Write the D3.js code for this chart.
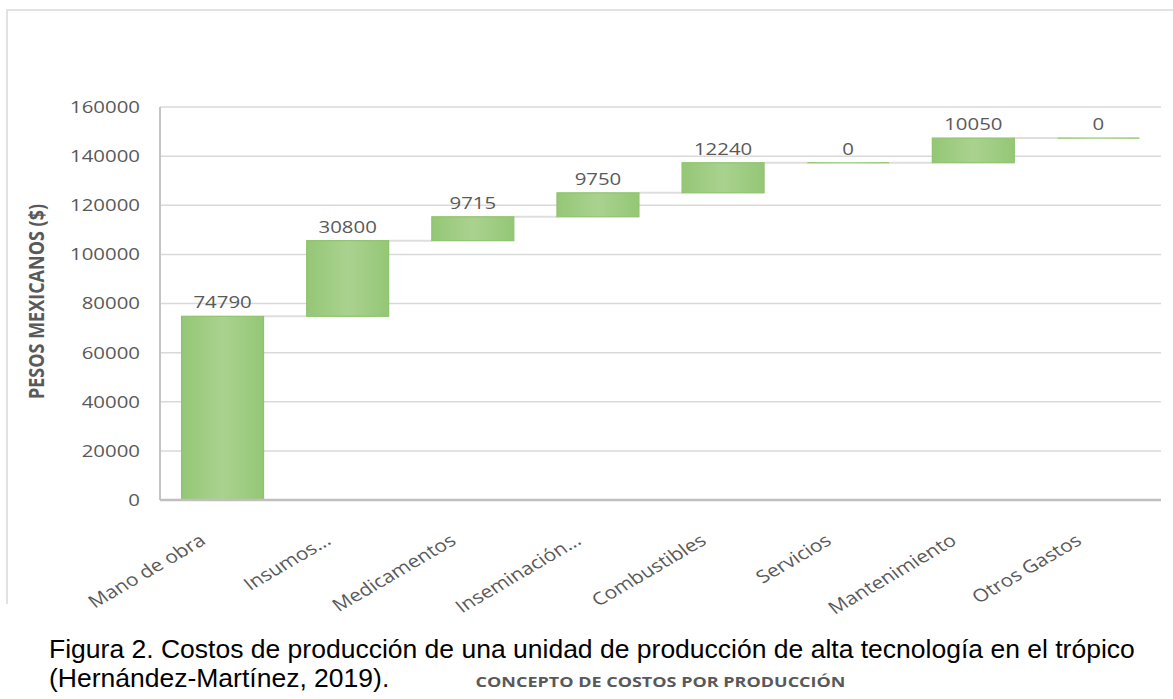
<!DOCTYPE html>
<html>
<head>
<meta charset="utf-8">
<script src="https://cdn.jsdelivr.net/npm/d3@7"></script>
<style>
  body { margin: 0; background: #fff; }
  svg { display: block; }
</style>
</head>
<body>
<svg class="chart" width="1173" height="699"></svg>
<script>
var categories = ["Mano de obra", "Insumos...", "Medicamentos", "Inseminación...", "Combustibles", "Servicios", "Mantenimiento", "Otros Gastos"];
var costs = [74790, 30800, 9715, 9750, 12240, 0, 10050, 0];
var yTicks = [0, 20000, 40000, 60000, 80000, 100000, 120000, 140000, 160000];
var yTitle = "PESOS MEXICANOS ($)";
var xTitle = "CONCEPTO DE COSTOS POR PRODUCCIÓN";
var captionLines = ["Figura 2. Costos de producción de una unidad de producción de alta tecnología en el trópico", "(Hernández-Martínez, 2019)."];

var margin = {top: 107, right: 12, bottom: 199, left: 160},
    width = 1173 - margin.left - margin.right,
    height = 699 - margin.top - margin.bottom;
var sx = 1.2; // the source picture is stretched sideways
var grey = "#595959";

// waterfall steps
var steps = [], run = 0;
costs.forEach(function(v, i) {
  steps.push({cat: categories[i], value: v, start: run, end: run + v});
  run += v;
});

var svg = d3.select(".chart");

var defs = svg.append("defs");
var grad = defs.append("linearGradient").attr("id", "barFill")
  .attr("x1", 0).attr("x2", 1).attr("y1", 0).attr("y2", 0);
grad.append("stop").attr("offset", "0").attr("stop-color", "#94c776");
grad.append("stop").attr("offset", "0.5").attr("stop-color", "#aad28f");
grad.append("stop").attr("offset", "1").attr("stop-color", "#94c776");

// outer chart frame
svg.append("path")
  .attr("d", "M7,604V10H1173")
  .attr("fill", "none").attr("stroke", "#d9d9d9").attr("stroke-width", 1.5);

var chart = svg.append("g")
  .attr("transform", "translate(" + margin.left + "," + margin.top + ")");

var x = d3.scaleBand().domain(categories).range([0, width]).paddingInner(0.345).paddingOuter(0.1725);
var y = d3.scaleLinear().domain([0, 160000]).range([height, 0]);

// gridlines
chart.selectAll(".grid")
  .data(yTicks.slice(1))
  .enter().append("line")
  .attr("class", "grid")
  .attr("x1", 0).attr("x2", width)
  .attr("y1", function(d) { return y(d); }).attr("y2", function(d) { return y(d); })
  .attr("stroke", "#d9d9d9").attr("stroke-width", 1.5);

// y axis line
chart.append("line")
  .attr("x1", 0).attr("x2", 0).attr("y1", y(160000)).attr("y2", y(0))
  .attr("stroke", "#c4c4c4").attr("stroke-width", 2);

// y tick labels
chart.selectAll(".ytick")
  .data(yTicks)
  .enter().append("text")
  .attr("class", "ytick")
  .attr("transform", function(d) { return "translate(-20," + y(d) + ") scale(" + sx + ",1)"; })
  .attr("dy", "0.35em")
  .attr("text-anchor", "end")
  .style("font-family", "'Open Sans', sans-serif").style("font-size", "17px")
  .attr("fill", grey)
  .text(function(d) { return d; });

// connectors
chart.selectAll(".conn")
  .data(steps.slice(0, -1))
  .enter().append("line")
  .attr("class", "conn")
  .attr("x1", function(d) { return x(d.cat) + x.bandwidth(); })
  .attr("x2", function(d, i) { return x(categories[i + 1]); })
  .attr("y1", function(d) { return y(d.end); })
  .attr("y2", function(d) { return y(d.end); })
  .attr("stroke", "#dedede").attr("stroke-width", 2);

// bars
chart.selectAll(".bar")
  .data(steps)
  .enter().append("rect")
  .attr("class", "bar")
  .attr("x", function(d) { return x(d.cat); })
  .attr("width", x.bandwidth())
  .attr("y", function(d) { return d.value > 0 ? y(d.end) : y(d.end) - 0.75; })
  .attr("height", function(d) { return Math.max(y(d.start) - y(d.end), 1.5); })
  .attr("fill", "url(#barFill)")
  .attr("stroke", "#8ec36d").attr("stroke-width", function(d) { return d.value > 0 ? 1.2 : 0; });

// x axis line
chart.append("line")
  .attr("x1", 0).attr("x2", width).attr("y1", y(0)).attr("y2", y(0))
  .attr("stroke", "#bfbfbf").attr("stroke-width", 2.5);

// data labels
chart.selectAll(".val")
  .data(steps)
  .enter().append("text")
  .attr("class", "val")
  .attr("transform", function(d) {
    return "translate(" + (x(d.cat) + x.bandwidth() / 2) + "," + (y(d.end) - 8) + ") scale(" + sx + ",1)";
  })
  .attr("text-anchor", "middle")
  .style("font-family", "'Open Sans', sans-serif").style("font-size", "17px")
  .attr("fill", grey)
  .text(function(d) { return d.value; });

// category labels
chart.selectAll(".xtick")
  .data(categories)
  .enter().append("text")
  .attr("class", "xtick")
  .attr("transform", function(d) {
    return "translate(" + (x(d) + x.bandwidth() / 2 - 24) + "," + (height + 33) + ") scale(" + sx + ",1) rotate(-35)";
  })
  .attr("dy", "0.71em")
  .attr("text-anchor", "end")
  .style("font-family", "'Open Sans', sans-serif").style("font-size", "17.5px")
  .attr("fill", grey)
  .text(function(d) { return d; });

// axis titles
svg.append("text")
  .attr("transform", "translate(44," + (margin.top + height / 2 - 2) + ") scale(" + sx + ",1) rotate(-90)")
  .attr("text-anchor", "middle")
  .style("font-family", "'Open Sans', sans-serif").style("font-size", "18px").style("font-weight", "bold")
  .attr("fill", grey)
  .text(yTitle);

svg.append("text")
  .attr("transform", "translate(" + (margin.left + width / 2) + ",687) scale(" + sx + ",1)")
  .attr("text-anchor", "middle")
  .style("font-family", "'Open Sans', sans-serif").style("font-size", "15px").style("font-weight", "bold")
  .attr("fill", grey)
  .text(xTitle);

// figure caption
svg.selectAll(".caption")
  .data(captionLines)
  .enter().append("text")
  .attr("class", "caption")
  .attr("x", 49)
  .attr("y", function(d, i) { return 658 + i * 29; })
  .style("font-family", "'Liberation Sans', Arial, sans-serif").style("font-size", "26.5px")
  .attr("fill", "#000")
  .text(function(d) { return d; });
</script>
</body>
</html>
